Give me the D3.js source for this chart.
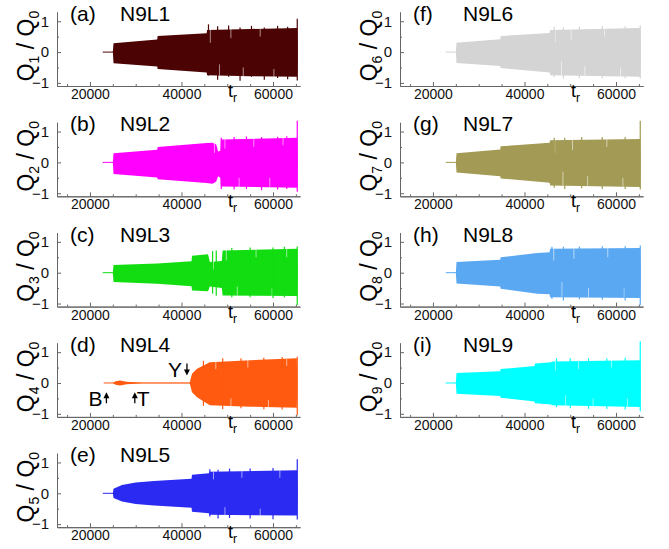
<!DOCTYPE html>
<html>
<head>
<meta charset="utf-8">
<script src="https://d3js.org/d3.v7.min.js"></script>
<style>
  body { margin: 0; background: #fff; }
  svg { display: block; font-family: "Liberation Sans", Arial, sans-serif; }
  .axis path, .axis line { stroke: #666; }
  .axis text { fill: #111; }
</style>
</head>
<body>
<svg width="669" height="549"></svg>
<script>
// panel labels, names and colours
var letters = ["(a)", "(b)", "(c)", "(d)", "(e)", "(f)", "(g)", "(h)", "(i)"];
var names = ["N9L1", "N9L2", "N9L3", "N9L4", "N9L5", "N9L6", "N9L7", "N9L8", "N9L9"];
var subs = ["1", "2", "3", "4", "5", "6", "7", "8", "9"];
var colors = ["#4b0303", "#ff00ff", "#11dd11", "#ff5a10", "#2a2af2", "#d4d4d4", "#a39b55", "#5aa8f2", "#00ffff"];

var xTicks = [20000, 40000, 60000];
var yTicks = [-1, 0, 1];

// flat (non-oscillating) line segments [tStart, tEnd]
var flat = [[22800, 25100], [22800, 25100], [22800, 25100], [23000, 41900], [22800, 25100],
            [22800, 25100], [22800, 25100], [22800, 25100], [22800, 25100]];

// envelopes of the oscillation: [t, upper, lower]
var env1 = [[25000, 0, 0], [25150, 0.29, -0.36], [34700, 0.41, -0.47], [34800, 0.52, -0.55], [45500, 0.61, -0.66],
            [45600, 0.72, -0.75], [55000, 0.75, -0.78], [65300, 0.78, -0.8], [65400, 0, 0]];
var env2 = [[25000, 0, 0], [25150, 0.3, -0.38], [34700, 0.41, -0.49], [34800, 0.5, -0.55], [45500, 0.63, -0.67],
            [46800, 0.64, -0.69], [47600, 0.58, -0.62], [48000, 0.35, -0.45], [48500, 0.38, -0.5], [48600, 0.74, -0.78],
            [65300, 0.8, -0.82], [65400, 0, 0]];
var env3 = [[25000, 0, 0], [25150, 0.25, -0.3], [34700, 0.3, -0.36], [42200, 0.37, -0.44], [42300, 0.55, -0.58],
            [45800, 0.6, -0.6], [46200, 0.35, -0.45], [48800, 0.38, -0.5], [49000, 0.72, -0.74], [65300, 0.78, -0.76], [65400, 0, 0]];
var env4 = [[25000, 0, 0], [25600, 0.06, -0.06], [26600, 0.08, -0.08], [28000, 0.04, -0.04], [31500, 0.01, -0.01],
            [41800, 0.01, -0.01], [42300, 0.3, -0.3], [43400, 0.46, -0.46], [46200, 0.67, -0.72], [55000, 0.74, -0.77],
            [65200, 0.8, -0.8], [65300, 0, 0]];
var env5 = [[25000, 0, 0], [25150, 0.15, -0.15], [27000, 0.27, -0.27], [30000, 0.35, -0.35], [34000, 0.4, -0.4],
            [42200, 0.47, -0.47], [42300, 0.6, -0.6], [46000, 0.65, -0.65], [46100, 0.7, -0.7], [65300, 0.75, -0.72], [65400, 0, 0]];
var env6 = [[25000, 0, 0], [25150, 0.3, -0.35], [34700, 0.42, -0.45], [34800, 0.52, -0.52], [45500, 0.62, -0.66],
            [45600, 0.72, -0.75], [65300, 0.78, -0.8], [65400, 0, 0]];
var env7 = [[25000, 0, 0], [25150, 0.3, -0.33], [34700, 0.42, -0.45], [34800, 0.52, -0.52], [45500, 0.64, -0.66],
            [45600, 0.72, -0.75], [65300, 0.76, -0.8], [65400, 0, 0]];
var env8 = [[25000, 0, 0], [25150, 0.35, -0.35], [34700, 0.42, -0.45], [34800, 0.5, -0.52], [42800, 0.64, -0.68],
            [45500, 0.66, -0.7], [45600, 0.78, -0.8], [65300, 0.8, -0.82], [65400, 0, 0]];
var env9 = [[25000, 0, 0], [25150, 0.32, -0.35], [34700, 0.38, -0.42], [34800, 0.45, -0.48], [42200, 0.55, -0.6],
            [42300, 0.63, -0.66], [45900, 0.67, -0.7], [46000, 0.7, -0.72], [65300, 0.74, -0.78], [65400, 0, 0]];

// single swings poking out of the envelope: [t, upper, lower]
var spikes1 = [[45900, 0.9, -0.76], [47900, 0.84, -0.9], [50300, 0.86, -0.8], [52800, 0.8, -0.93], [55300, 0.85, -0.8],
               [58100, 0.8, -0.9], [61000, 0.85, -0.84], [63200, 0.82, -0.88], [65300, 1.08, -0.92]];
var spikes2 = [[48700, 0.8, -0.86], [51500, 0.82, -0.88], [54200, 0.84, -0.86], [57500, 0.82, -0.9], [61000, 0.83, -0.88],
               [63000, 0.85, -0.86], [65300, 1.35, -0.95]];
var spikes3 = [[46800, 0.7, -0.68], [47600, 0.72, -0.75], [51000, 0.8, -0.8], [55000, 0.82, -0.8], [60000, 0.82, -0.82],
               [62500, 0.84, -0.8], [65300, 0.85, -1.05]];
var spikes4 = [[44800, 0.72, -0.74], [49000, 0.8, -0.85], [53000, 0.8, -0.82], [58000, 0.82, -0.85], [62000, 0.84, -0.86],
               [65300, 0.85, -1.05]];
var spikes5 = [[46200, 0.78, -0.75], [48000, 0.76, -0.82], [50500, 0.8, -0.8], [55000, 0.8, -0.82], [60000, 0.82, -0.84],
               [65300, 1.1, -0.85]];
var spikes6 = [[46500, 0.82, -0.82], [48500, 0.8, -0.86], [52000, 0.82, -0.84], [57000, 0.84, -0.86], [62000, 0.84, -0.85],
               [65300, 0.86, -0.86]];
var spikes7 = [[46500, 0.8, -0.82], [48800, 0.8, -0.86], [52500, 0.82, -0.84], [57000, 0.82, -0.86], [62000, 0.82, -0.86],
               [65300, 1.35, -0.88]];
var spikes8 = [[46000, 0.84, -0.85], [48500, 0.84, -0.9], [52000, 0.85, -0.86], [57000, 0.86, -0.88], [62000, 0.86, -0.9],
               [65300, 0.88, -1.05]];
var spikes9 = [[47000, 0.8, -0.78], [50000, 0.8, -0.82], [54000, 0.8, -0.84], [58000, 0.8, -0.84], [62000, 0.82, -0.86],
               [65300, 1.35, -0.92]];

// lighter streaks inside the late, irregular part: [t, from, to]
var gaps1 = [[46300, 0.72, 0.3], [48300, -0.75, -0.4], [50800, 0.75, 0.45], [53500, -0.78, -0.5], [57200, 0.76, 0.5], [60200, -0.8, -0.55]];
var gaps2 = [[47200, 0.64, 0.3], [49500, 0.76, 0.45], [52600, -0.8, -0.5], [55800, 0.78, 0.5], [59300, -0.8, -0.5], [62200, 0.8, 0.55]];
var gaps3 = [[47000, 0.38, 0.1], [49800, 0.74, 0.4], [52200, -0.74, -0.45], [56300, 0.76, 0.5], [59800, -0.76, -0.5], [63000, 0.78, 0.5]];
var gaps4 = [[47500, 0.7, 0.45], [50800, -0.75, -0.5], [54500, 0.74, 0.5], [59000, -0.78, -0.55], [63000, 0.78, 0.55]];
var gaps5 = [[47000, 0.7, 0.45], [49500, -0.7, -0.45], [53200, 0.72, 0.5], [57200, -0.72, -0.5], [61500, 0.74, 0.5]];
var gaps6 = [[46700, 0.72, 0.3], [48100, -0.75, -0.3], [50200, 0.74, 0.4], [53200, -0.76, -0.45], [57500, 0.76, 0.5], [61000, -0.78, -0.5]];
var gaps7 = [[46600, 0.72, 0.3], [48400, -0.75, -0.3], [50500, 0.73, 0.4], [53800, -0.76, -0.45], [58000, 0.75, 0.5], [61500, -0.78, -0.5]];
var gaps8 = [[46400, 0.78, 0.4], [48200, -0.8, -0.3], [50800, 0.78, 0.45], [54000, -0.8, -0.5], [58200, 0.8, 0.5], [61800, -0.81, -0.5]];
var gaps9 = [[46800, 0.7, 0.4], [49000, -0.72, -0.4], [51800, 0.72, 0.45], [55000, -0.74, -0.5], [59000, 0.73, 0.5], [62500, -0.76, -0.5]];

var envs = [env1, env2, env3, env4, env5, env6, env7, env8, env9];
var spikes = [spikes1, spikes2, spikes3, spikes4, spikes5, spikes6, spikes7, spikes8, spikes9];
var gaps = [gaps1, gaps2, gaps3, gaps4, gaps5, gaps6, gaps7, gaps8, gaps9];

// arrows in panel (d): [t, value of tip, text, pointing]
var marks4 = [[23600, -0.3, "B", "up"], [29800, -0.3, "T", "up"], [41200, 0.24, "Y", "down"]];

var svg = d3.select("svg");

var x = d3.scaleLinear().domain([12800, 65900]).range([57, 300]);
var y = d3.scaleLinear().domain([-1.1, 1.3]).range([86, 12]);

var area = d3.area()
  .x(function(d) { return x(d[0]); })
  .y0(function(d) { return y(d[2]); })
  .y1(function(d) { return y(d[1]); });

for (var i = 0; i < 9; i++) {
  var col = i < 5 ? 0 : 1;
  var row = i < 5 ? i : i - 5;
  var g = svg.append("g")
    .attr("transform", "translate(" + (col * 343) + "," + (row * 110.3) + ")");

  // minor ticks
  g.append("g")
    .attr("class", "axis")
    .attr("transform", "translate(0,86)")
    .call(d3.axisBottom(x).tickValues([15000, 25000, 30000, 35000, 45000, 50000, 55000, 65000])
      .tickSizeInner(-2).tickSizeOuter(0).tickFormat(""));
  g.append("g")
    .attr("class", "axis")
    .attr("transform", "translate(57,0)")
    .call(d3.axisLeft(y).tickValues([-0.5, 0.5]).tickSizeInner(-2).tickSizeOuter(0).tickFormat(""));

  g.append("g")
    .attr("class", "axis")
    .attr("transform", "translate(0,86)")
    .call(d3.axisBottom(x).tickValues(xTicks).tickSizeInner(-4).tickSizeOuter(0).tickPadding(3)
      .tickFormat(d3.format("d")))
    .selectAll("text")
    .attr("font-size", "14px");

  g.append("g")
    .attr("class", "axis")
    .attr("transform", "translate(57,0)")
    .call(d3.axisLeft(y).tickValues(yTicks).tickSizeInner(-4).tickSizeOuter(0).tickPadding(8).tickFormat(d3.format("d")))
    .selectAll("text")
    .attr("font-size", "15px");

  // flat part before the oscillation
  g.append("line")
    .attr("x1", x(flat[i][0]))
    .attr("x2", x(flat[i][1]))
    .attr("y1", y(0))
    .attr("y2", y(0))
    .attr("stroke", colors[i])
    .attr("stroke-width", 1);

  g.append("path")
    .datum(envs[i])
    .attr("d", area)
    .attr("fill", colors[i]);

  g.selectAll(".gap")
    .data(gaps[i])
    .enter()
    .append("line")
    .attr("class", "gap")
    .attr("x1", function(d) { return x(d[0]); })
    .attr("x2", function(d) { return x(d[0]); })
    .attr("y1", function(d) { return y(d[1]); })
    .attr("y2", function(d) { return y(d[2]); })
    .attr("stroke", "#fff")
    .attr("stroke-opacity", 0.55)
    .attr("stroke-width", 1);

  g.selectAll(".spike")
    .data(spikes[i])
    .enter()
    .append("line")
    .attr("class", "spike")
    .attr("x1", function(d) { return x(d[0]); })
    .attr("x2", function(d) { return x(d[0]); })
    .attr("y1", function(d) { return y(d[1]); })
    .attr("y2", function(d) { return y(d[2]); })
    .attr("stroke", colors[i])
    .attr("stroke-width", 1.2);

  // panel label
  g.append("text")
    .attr("x", 70)
    .attr("y", 21)
    .attr("font-size", "21px")
    .text(letters[i]);
  g.append("text")
    .attr("x", 120)
    .attr("y", 21)
    .attr("font-size", "21px")
    .text(names[i]);

  // x label t_r
  var tl = g.append("text")
    .attr("x", 228)
    .attr("y", 97)
    .attr("font-size", "18px");
  tl.append("tspan").text("t");
  tl.append("tspan").attr("dy", 5).attr("font-size", "12px").text("r");

  // y label Q_i / Q_0
  var yl = g.append("text")
    .attr("transform", "translate(34,46) rotate(-90)")
    .attr("text-anchor", "middle")
    .attr("font-size", "23px");
  yl.append("tspan").text("Q");
  yl.append("tspan").attr("dy", 5).attr("font-size", "14px").text(subs[i]);
  yl.append("tspan").attr("dy", -5).text(" / Q");
  yl.append("tspan").attr("dy", 5).attr("font-size", "14px").text("0");

  if (i === 3) {
    marks4.forEach(function(m) {
      var ax = x(m[0]);
      var tip = y(m[1]);
      var tail = m[3] === "up" ? tip + 11 : tip - 12;
      g.append("line")
        .attr("x1", ax).attr("x2", ax)
        .attr("y1", tail).attr("y2", m[3] === "up" ? tip + 3 : tip - 3)
        .attr("stroke", "#000").attr("stroke-width", 1.3);
      g.append("path")
        .attr("d", m[3] === "up"
          ? "M" + ax + "," + tip + "l-3,6h6z"
          : "M" + ax + "," + tip + "l-3,-6h6z")
        .attr("fill", "#000");
      var tx, ty;
      if (m[2] === "B") { tx = ax - 4; ty = tip + 14; }
      else if (m[2] === "T") { tx = ax + 2; ty = tip + 14; }
      else { tx = ax - 5; ty = tip + 1; }
      g.append("text")
        .attr("x", tx)
        .attr("y", ty)
        .attr("font-size", "21px")
        .attr("text-anchor", m[2] === "T" ? "start" : "end")
        .text(m[2]);
    });
  }
}
</script>
</body>
</html>
